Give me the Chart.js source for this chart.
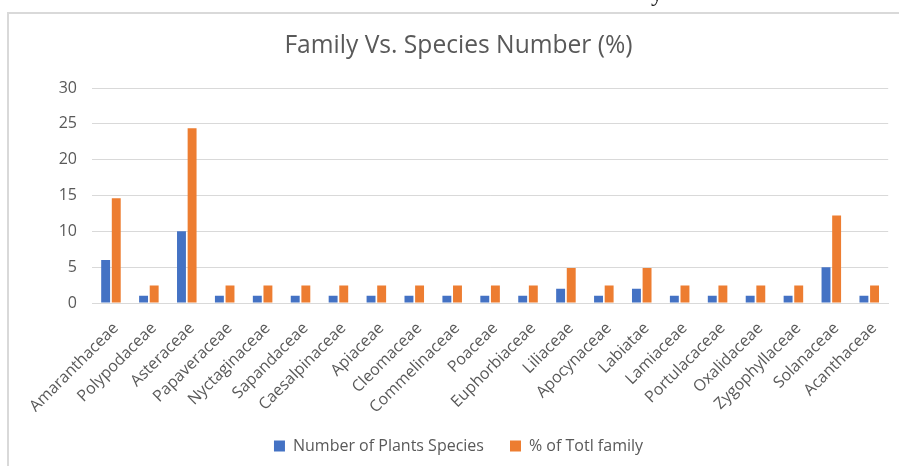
<!DOCTYPE html>
<html>
<head>
<meta charset="utf-8">
<title>Family Vs. Species Number (%)</title>
<script src="https://cdn.jsdelivr.net/npm/chart.js@4.4.1/dist/chart.umd.min.js"></script>
<style>
  html, body { margin: 0; padding: 0; background: #ffffff; }
  #wrap { position: relative; width: 899px; height: 466px; }
</style>
</head>
<body>
<div id="wrap"><canvas id="chart" width="899" height="466"></canvas></div>
<script>
// Plant families recorded in the survey
const categories = [
  'Amaranthaceae', 'Polypodaceae', 'Asteraceae', 'Papaveraceae', 'Nyctaginaceae',
  'Sapandaceae', 'Caesalpinaceae', 'Apiaceae', 'Cleomaceae', 'Commelinaceae',
  'Poaceae', 'Euphorbiaceae', 'Liliaceae', 'Apocynaceae', 'Labiatae',
  'Lamiaceae', 'Portulacaceae', 'Oxalidaceae', 'Zygophyllaceae', 'Solanaceae',
  'Acanthaceae'
];

// Number of plant species in each family
const speciesCounts = [6, 1, 10, 1, 1, 1, 1, 1, 1, 1, 1, 1, 2, 1, 2, 1, 1, 1, 1, 5, 1];

// Share of the total (%) for each family
const percentOfTotal = [
  14.63, 2.44, 24.39, 2.44, 2.44, 2.44, 2.44, 2.44, 2.44, 2.44,
  2.44, 2.44, 4.88, 2.44, 4.88, 2.44, 2.44, 2.44, 2.44, 12.2, 2.44
];

// Value axis ticks
const yTicks = [0, 5, 10, 15, 20, 25, 30];

const seriesNames = ['Number of Plants Species', '% of Totl family'];

const FONT = '"Open Sans", "DejaVu Sans", sans-serif';
const TEXT = '#595959';
const GRID = '#d9d9d9';

// Light frame around the chart, plus the tail of a caption set above it
const framePlugin = {
  id: 'frame',
  beforeDraw(chart) {
    const ctx = chart.ctx;
    ctx.save();
    ctx.strokeStyle = '#d9d9d9';
    ctx.lineWidth = 2;
    ctx.beginPath();
    ctx.moveTo(8, 466);
    ctx.lineTo(8, 13);
    ctx.lineTo(899, 13);
    ctx.stroke();
    ctx.fillStyle = '#1a1a1a';
    ctx.font = '24px "Liberation Serif", serif';
    ctx.textBaseline = 'alphabetic';
    ctx.fillText('y', 651, 1);
    ctx.restore();
  }
};

new Chart(document.getElementById('chart'), {
  type: 'bar',
  data: {
    labels: categories,
    datasets: [
      {
        label: seriesNames[0],
        data: speciesCounts,
        backgroundColor: '#4472C4',
        categoryPercentage: 0.56,
        barPercentage: 0.84
      },
      {
        label: seriesNames[1],
        data: percentOfTotal,
        backgroundColor: '#ED7D31',
        categoryPercentage: 0.56,
        barPercentage: 0.84
      }
    ]
  },
  options: {
    responsive: false,
    animation: false,
    layout: { padding: { left: 26, right: 8, top: 0, bottom: 2 } },
    plugins: {
      title: {
        display: true,
        text: 'Family Vs. Species Number (%)',
        color: TEXT,
        font: { family: FONT, size: 24.6, weight: 'normal' },
        padding: { top: 31, bottom: 27.5 }
      },
      legend: {
        position: 'bottom',
        labels: {
          color: TEXT,
          font: { family: FONT, size: 16 },
          boxWidth: 11,
          boxHeight: 11,
          padding: 26
        }
      },
      tooltip: { enabled: false }
    },
    scales: {
      x: {
        grid: { display: false, drawTicks: false },
        border: { display: true, color: GRID, width: 1 },
        ticks: {
          color: TEXT,
          font: { family: FONT, size: 16 },
          minRotation: 45,
          maxRotation: 45,
          autoSkip: false,
          padding: 16,
          labelOffset: 5
        },
        afterFit(scale) { scale.height = 109; }
      },
      y: {
        min: 0,
        max: 30,
        afterBuildTicks(scale) { scale.ticks = yTicks.map(v => ({ value: v })); },
        grid: { color: GRID, lineWidth: 1, drawTicks: false },
        border: { display: false },
        ticks: {
          color: TEXT,
          font: { family: FONT, size: 16 },
          padding: 15
        },
        afterFit(scale) { scale.width = 66; }
      }
    }
  },
  plugins: [framePlugin]
});
</script>
</body>
</html>
